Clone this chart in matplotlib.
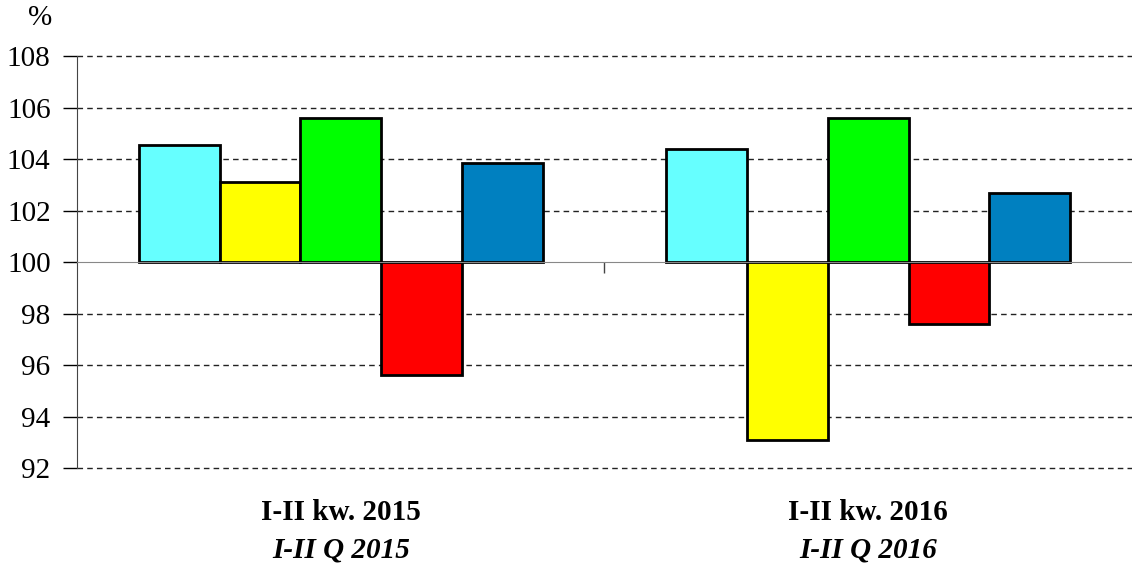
import numpy as np
import matplotlib.pyplot as plt
from matplotlib.transforms import blended_transform_factory

# Data
categories_pl = ["I-II kw. 2015", "I-II kw. 2016"]
categories_en = ["I-II Q 2015", "I-II Q 2016"]
series_colors = ["#66FFFF", "#FFFF00", "#00FF00", "#FF0000", "#0080C0"]
values_2015 = [104.55, 103.1, 105.6, 95.6, 103.85]
values_2016 = [104.4, 93.1, 105.6, 97.6, 102.7]
series = np.array([values_2015, values_2016]).T  # 5 series x 2 categories
base = 100

plt.rcParams['font.family'] = ['Liberation Serif', 'DejaVu Serif']

fig = plt.figure(figsize=(11.32, 5.69), dpi=100)
ax = fig.add_axes([0.068, 0.1775, 0.932, 0.724])

x = np.arange(len(categories_pl))
w = 0.153
for i, (vals, col) in enumerate(zip(series, series_colors)):
    ax.bar(x + (i - 2) * w, vals - base, bottom=base, width=w, color=col,
           edgecolor='black', linewidth=2, zorder=3)

ax.set_xlim(-0.5, 1.5)
ax.set_ylim(92, 108)
yticks = np.arange(92, 109, 2)
ax.set_yticks(yticks)
ax.tick_params(axis='y', labelsize=21, length=10, width=1, direction='out', pad=9)

# dashed gridlines (drawn by hand so the edge ones are not clipped)
for yt in yticks:
    if yt != base:
        ax.axhline(yt, linestyle=(0, (4, 3)), color='#222222', linewidth=1,
                   clip_on=False, zorder=1)

# x axis crossing at 100 with a separator tick
for s in ['top', 'right']:
    ax.spines[s].set_visible(False)
ax.spines['left'].set_color('#444444')
ax.spines['bottom'].set_position(('data', base))
ax.spines['bottom'].set_color('#888888')
ax.spines['bottom'].set_zorder(4)
ax.set_xticks([0.5])
ax.set_xticklabels([])
ax.tick_params(axis='x', length=8, width=1, direction='out', color='#444444')

# category labels
tr = blended_transform_factory(ax.transData, fig.transFigure)
for xi, pl, en in zip(x, categories_pl, categories_en):
    ax.text(xi, 1 - 512 / 569, pl, transform=tr, ha='center', va='center',
            fontsize=21, fontweight='bold')
    ax.text(xi, 1 - 550 / 569, en, transform=tr, ha='center', va='center',
            fontsize=21, fontweight='bold', fontstyle='italic')

fig.text(40 / 1132, 1 - 18 / 569, "%", ha='center', va='center', fontsize=21)

fig.savefig("out.png", dpi=100)
